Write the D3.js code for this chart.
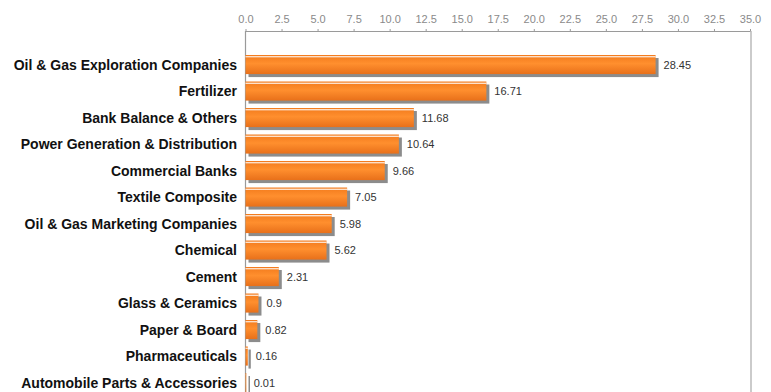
<!DOCTYPE html>
<html>
<head>
<meta charset="utf-8">
<script src="https://cdn.jsdelivr.net/npm/d3@7"></script>
<style>
  html, body { margin: 0; padding: 0; background: #ffffff; }
  svg { display: block; }
</style>
</head>
<body>
<svg id="chart" width="771" height="392"></svg>
<script>
// Sector weights (%)
const categories = [
  "Oil & Gas Exploration Companies",
  "Fertilizer",
  "Bank Balance & Others",
  "Power Generation & Distribution",
  "Commercial Banks",
  "Textile Composite",
  "Oil & Gas Marketing Companies",
  "Chemical",
  "Cement",
  "Glass & Ceramics",
  "Paper & Board",
  "Pharmaceuticals",
  "Automobile Parts & Accessories"
];
const values = [28.45, 16.71, 11.68, 10.64, 9.66, 7.05, 5.98, 5.62, 2.31, 0.9, 0.82, 0.16, 0.01];
const tickValues = [0, 2.5, 5, 7.5, 10, 12.5, 15, 17.5, 20, 22.5, 25, 27.5, 30, 32.5, 35];

const svg = d3.select("#chart");
const W = 771, H = 392;

const x = d3.scaleLinear().domain([0, 35]).range([245.5, 750]);
const y = d3.scaleBand()
  .domain(categories)
  .range([51.3, 395.8])
  .paddingInner(0.28)
  .paddingOuter(0.14);

const data = categories.map((c, i) => ({ cat: c, val: values[i] }));

// bar fill gradient
const defs = svg.append("defs");
const g1 = defs.append("linearGradient").attr("id", "barGrad")
  .attr("x1", 0).attr("y1", 0).attr("x2", 0).attr("y2", 1);
g1.append("stop").attr("offset", "0%").attr("stop-color", "#f27a1c");
g1.append("stop").attr("offset", "45%").attr("stop-color", "#ff8f2e");
g1.append("stop").attr("offset", "100%").attr("stop-color", "#e8701a");

// plot frame
svg.append("line")
  .attr("x1", x(0)).attr("x2", x(0)).attr("y1", 31).attr("y2", H)
  .attr("stroke", "#9a9a9a").attr("stroke-width", 1.2);
svg.append("line")
  .attr("x1", 751).attr("x2", 751).attr("y1", 31).attr("y2", H)
  .attr("stroke", "#a8a8a8").attr("stroke-width", 1.2);

// top axis
const axis = d3.axisTop(x)
  .tickValues(tickValues)
  .tickFormat(d3.format(".1f"))
  .tickSize(2)
  .tickSizeOuter(0)
  .tickPadding(6);
const ax = svg.append("g").attr("transform", "translate(0,31)").call(axis);
ax.select(".domain").attr("stroke", "#9a9a9a");
ax.selectAll(".tick line").attr("stroke", "#9a9a9a");
ax.selectAll(".tick text")
  .attr("fill", "#8a8a8a")
  .style("font-family", "'Liberation Sans', Arial, sans-serif")
  .style("font-size", "11px");

// bars with drop shadow and top highlight
const bars = svg.append("g").selectAll("g.bar").data(data).join("g").attr("class", "bar");
const bh = y.bandwidth();

bars.append("rect")
  .attr("x", x(0) + 3)
  .attr("y", d => y(d.cat) + 3)
  .attr("width", d => Math.max(1.5, x(d.val) - x(0)))
  .attr("height", bh)
  .attr("fill", "#8c8c8c");

bars.append("rect")
  .attr("x", x(0))
  .attr("y", d => y(d.cat))
  .attr("width", d => Math.max(0.8, x(d.val) - x(0)))
  .attr("height", bh)
  .attr("fill", "url(#barGrad)");

bars.append("rect")
  .attr("x", x(0))
  .attr("y", d => y(d.cat) + 1.2)
  .attr("width", d => Math.max(0, x(d.val) - x(0)))
  .attr("height", 1.1)
  .attr("fill", "#ffffff")
  .attr("opacity", 0.95);

// value labels
bars.append("text")
  .attr("x", d => x(d.val) + 8)
  .attr("y", d => y(d.cat) + bh / 2 + 4)
  .attr("fill", "#333333")
  .style("font-family", "'Liberation Sans', Arial, sans-serif")
  .style("font-size", "11px")
  .text(d => d.val);

// category labels
svg.append("g").selectAll("text").data(data).join("text")
  .attr("x", 237)
  .attr("y", d => y(d.cat) + bh / 2 + 5)
  .attr("text-anchor", "end")
  .attr("fill", "#111111")
  .style("font-family", "'Liberation Sans', Arial, sans-serif")
  .style("font-weight", "bold")
  .style("font-size", "14px")
  .text(d => d.cat);
</script>
</body>
</html>
